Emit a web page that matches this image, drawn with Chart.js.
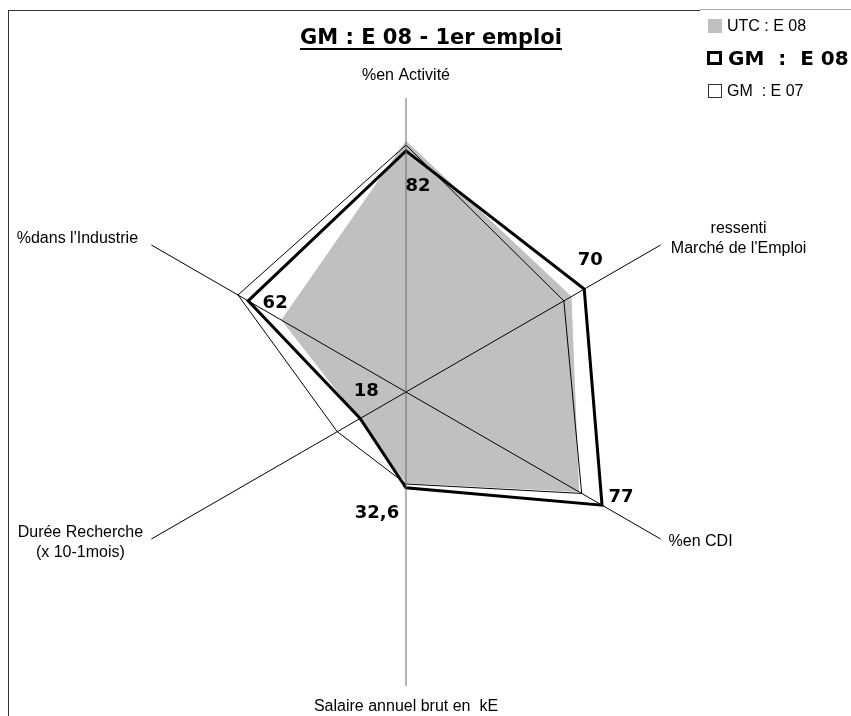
<!DOCTYPE html>
<html>
<head>
<meta charset="utf-8">
<script src="https://cdn.jsdelivr.net/npm/chart.js@4/dist/chart.umd.min.js"></script>
<style>
  body { margin: 0; background: #fff; }
  #wrap { position: relative; width: 851px; height: 716px; overflow: hidden; }
  #frame { position: absolute; left: 8px; top: 10px; width: 900px; height: 800px;
           border-top: 1px solid #333; border-left: 1px solid #333; }
  #title { position: absolute; left: 231px; top: 24px; width: 400px; text-align: center;
           font: bold 21px "Comic Sans MS", "DejaVu Sans", sans-serif; line-height: 26px;
           text-decoration: underline; text-decoration-thickness: 2px; text-underline-offset: 4px; }
  #legend { position: absolute; left: 700px; top: 9px; width: 151px; height: 100px; background: #fff;
            border-top: 1px solid #aaa; }
  .box { position: absolute; box-sizing: border-box; width: 14px; height: 14px; }
  .txt { position: absolute; white-space: pre; font: 16px "Liberation Sans", Arial, sans-serif; line-height: 18px; }
</style>
</head>
<body>
<div id="wrap">
  <div id="frame"></div>
  <canvas id="radar" width="851" height="716"></canvas>
  <div id="title">GM : E 08 - 1er emploi</div>
  <div id="legend">
    <div class="box" style="left:8px;top:9px;background:#c0c0c0"></div>
    <div class="txt" style="left:27px;top:7px">UTC : E 08</div>
    <div class="box" style="left:7px;top:41px;width:15px;border:3px solid #000"></div>
    <div class="txt" style="left:28px;top:36px;font:bold 20px 'Comic Sans MS','DejaVu Sans',sans-serif;line-height:24px">GM  :  E 08</div>
    <div class="box" style="left:8px;top:74px;border:1px solid #333"></div>
    <div class="txt" style="left:27px;top:72px">GM  : E 07</div>
  </div>
</div>
<script>
"use strict";
const categories = [
    ["%en Activité"],
    ["ressenti", "Marché de l'Emploi"],
    ["%en CDI"],
    ["Salaire annuel brut en  kE"],
    ["Durée Recherche", "(x 10-1mois)"],
    ["%dans l'Industrie"]
];
const utcE08 = [85.5, 65, 68, 31, 18.5, 49];
const gmE08 = [82, 70, 77, 32.6, 18, 62];
const gmE07 = [84, 62, 69, 31.3, 27, 66];

// where the axis titles and value labels sit (pixels from the point)
const axisLabelOffset = [[0, -22], [78, -6], [40, 3], [0, 21], [-71, 4], [-74, -6]];
const valueOffset = [[12, 35], [6, -29], [19, -8], [-29, 25], [6, -27], [27, 2]];

const labelPlugin = {
    id: "labels",
    afterDraw(chart) {
        const ctx = chart.ctx;
        const scale = chart.scales.r;
        ctx.save();
        ctx.fillStyle = "#000";
        ctx.textAlign = "center";
        ctx.textBaseline = "middle";

        // axis titles
        ctx.font = '16px "Liberation Sans", Arial, sans-serif';
        categories.forEach(function (lines, i) {
            const p = scale.getPointPosition(i, scale.drawingArea);
            const off = axisLabelOffset[i];
            const top = p.y + off[1] - (lines.length - 1) * 10;
            lines.forEach(function (t, j) {
                ctx.fillText(t, p.x + off[0], top + j * 20);
            });
        });

        // GM E08 values
        ctx.font = 'bold 18px "Comic Sans MS", "DejaVu Sans", sans-serif';
        chart.getDatasetMeta(1).data.forEach(function (pt, i) {
            const txt = String(gmE08[i]).replace(".", ",");
            ctx.fillText(txt, pt.x + valueOffset[i][0], pt.y + valueOffset[i][1]);
        });
        ctx.restore();
    }
};

const ctx = document.getElementById("radar").getContext("2d");
const myChart = new Chart(ctx, {
    type: "radar",
    data: {
        labels: categories.map(function (c) { return c.join(" "); }),
        datasets: [{
            label: "UTC : E 08",
            data: utcE08,
            backgroundColor: "#c0c0c0",
            borderWidth: 0,
            fill: true,
            order: 3
        },
        {
            label: "GM : E 08",
            data: gmE08,
            borderColor: "#000",
            borderWidth: 3,
            borderJoinStyle: "miter",
            fill: false,
            order: 1
        },
        {
            label: "GM : E 07",
            data: gmE07,
            borderColor: "#000",
            borderWidth: 1,
            borderJoinStyle: "miter",
            fill: false,
            order: 2
        }]
    },
    options: {
        responsive: false,
        animation: false,
        devicePixelRatio: 1,
        layout: { padding: { left: 112, right: 151, top: 98, bottom: 30 } },
        elements: { point: { radius: 0, hoverRadius: 0 }, line: { tension: 0 } },
        plugins: { legend: { display: false }, tooltip: { enabled: false } },
        scales: {
            r: {
                min: 0,
                max: 100,
                ticks: { display: false },
                // grid layer holds the spokes; z 1 puts them above the grey fill
                grid: { display: false, z: 1 },
                pointLabels: { display: false },
                angleLines: {
                    lineWidth: 1,
                    color: function (c) { return (c.index === 0 || c.index === 3) ? "#686868" : "#000"; }
                }
            }
        }
    },
    plugins: [labelPlugin]
});
</script>
</body>
</html>
